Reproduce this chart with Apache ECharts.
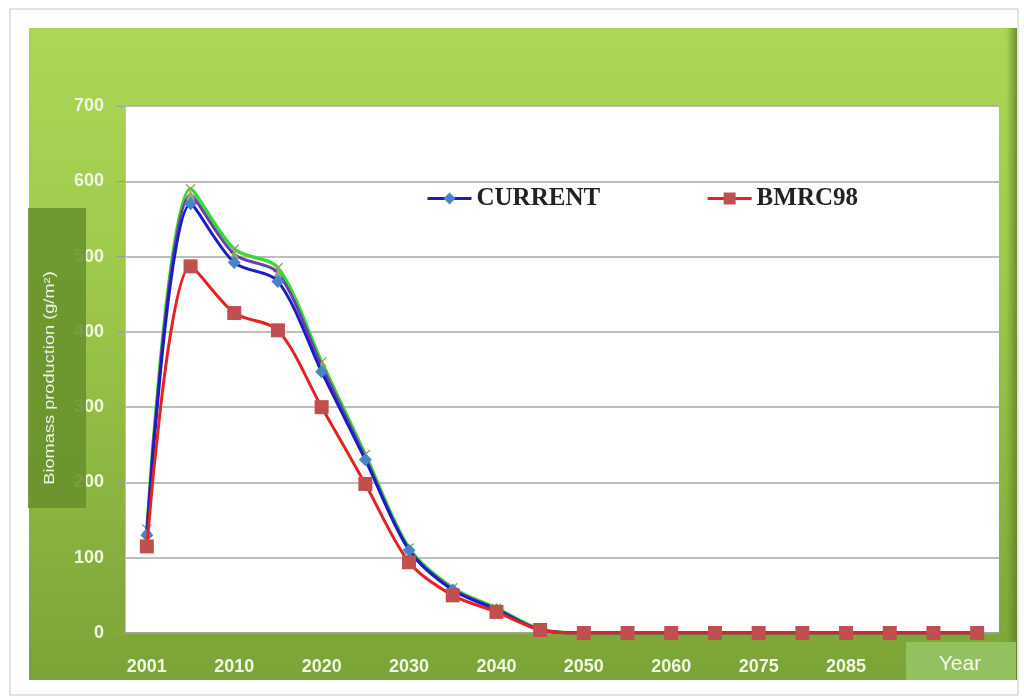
<!DOCTYPE html>
<html>
<head>
<meta charset="utf-8">
<script src="https://cdn.jsdelivr.net/npm/echarts@6/dist/echarts.min.js"></script>
<style>
html,body{margin:0;padding:0;background:#fff;}
#chart{width:1024px;height:697px;}
</style>
</head>
<body>
<div id="chart"></div>
<script>
var years = ['2001','2005','2010','2015','2020','2025','2030','2035','2040','2045','2050','2055','2060','2070','2075','2080','2085','2090','2095','2100'];
var yTicks = [0,100,200,300,400,500,600,700];
var current = [130,570,492,467,347,230,110,57,31,4,0,0,0,0,0,0,0,0,0,0];
var bmrc98  = [115,487,425,402,300,198,94,50,28,4,0,0,0,0,0,0,0,0,0,0];
var seriesGreen  = [138,590,510,485,360,237,113,60,33,5,0,0,0,0,0,0,0,0,0,0];
var seriesPurple = [135,582,503,478,355,233,111,58,32,4,0,0,0,0,0,0,0,0,0,0];

var xPath = 'path://M1,0L5,4L9,0L10,1L6,5L10,9L9,10L5,6L1,10L0,9L4,5L0,1Z';
var labelFont = '"Liberation Sans", Arial, sans-serif';

var chart = echarts.init(document.getElementById('chart'), null, {renderer:'canvas'});
chart.setOption({
  backgroundColor:'#ffffff',
  animation:false,
  graphic:[
    {type:'rect', z:-20, shape:{x:10,y:9,width:1008,height:686}, style:{fill:'#ffffff', stroke:'#c8c8c8', lineWidth:1}},
    {type:'rect', z:-19, shape:{x:29,y:28,width:988,height:652},
      style:{fill:{type:'linear',x:0,y:0,x2:0,y2:1,colorStops:[
        {offset:0,color:'#acd656'},{offset:0.35,color:'#a0ca4b'},{offset:1,color:'#7ba337'}]}}},
    {type:'rect', z:-18, shape:{x:1006,y:28,width:11,height:652},
      style:{fill:{type:'linear',x:0,y:0,x2:1,y2:0,colorStops:[
        {offset:0,color:'rgba(100,140,40,0)'},{offset:1,color:'rgba(90,125,35,0.8)'}]}}},
    {type:'rect', z:100, shape:{x:28,y:208,width:58,height:300}, style:{fill:'rgba(104,145,44,0.88)'}},
    {type:'text', z:101, x:50, y:378, rotation:Math.PI/2, scaleX:1.3,
      style:{text:'Biomass production (g/m²)', fill:'#eef2e6', font:'14px "Liberation Sans", Arial, sans-serif', align:'center', verticalAlign:'middle'}},
    {type:'rect', z:100, shape:{x:906,y:642,width:110,height:38}, style:{fill:'rgba(150,196,100,0.9)'}},
    {type:'text', z:101, x:960, y:664,
      style:{text:'Year', fill:'#f6f8f0', font:'21px "Liberation Sans", Arial, sans-serif', align:'center', verticalAlign:'middle'}}
  ],
  grid:{left:125, right:25, top:106, bottom:64, show:true, backgroundColor:'#ffffff', borderWidth:0},
  legend:{
    data:['CURRENT','BMRC98'],
    left:421, top:181, itemGap:106, itemWidth:44, itemHeight:15,
    lineStyle:{width:3},
    textStyle:{fontFamily:'"Liberation Serif", "Times New Roman", serif', fontWeight:'bold', fontSize:25, color:'#222'}
  },
  xAxis:{
    type:'category', data:years, boundaryGap:true,
    axisLine:{show:true, lineStyle:{color:'#9a9a9a', width:1.5}},
    axisTick:{show:false},
    axisLabel:{interval:function(i){return i%2===0 && i!==18;}, margin:25, color:'#f0f6e2', fontSize:18, fontWeight:'bold', fontFamily:labelFont}
  },
  yAxis:{
    type:'value', min:yTicks[0], max:yTicks[yTicks.length-1], interval:100,
    axisLine:{show:true, lineStyle:{color:'#b8c8a0', width:1}},
    axisTick:{show:true, length:8, lineStyle:{color:'#9a9a9a'}},
    axisLabel:{margin:21, color:'#f0f6e2', fontSize:18, fontWeight:'bold', fontFamily:labelFont},
    splitLine:{show:true, lineStyle:{color:'#a8a8a8', width:1.5}}
  },
  series:[
    {name:'Scenario G', type:'line', smooth:0.3, data:seriesGreen, z:2,
      lineStyle:{color:'#35dc35', width:3.5}, itemStyle:{color:'#8fa860'},
      symbol:xPath, symbolSize:10},
    {name:'Scenario P', type:'line', smooth:0.3, data:seriesPurple, z:3,
      lineStyle:{color:'#6a3fa8', width:3}, itemStyle:{color:'#93a86a'},
      symbol:'triangle', symbolSize:9},
    {name:'CURRENT', type:'line', smooth:0.3, data:current, z:4,
      lineStyle:{color:'#1c1cc4', width:3}, itemStyle:{color:'#4a84c6'},
      symbol:'diamond', symbolSize:13},
    {name:'BMRC98', type:'line', smooth:0.3, data:bmrc98, z:5,
      lineStyle:{color:'#e52222', width:3}, itemStyle:{color:'#c0504d'},
      symbol:'rect', symbolSize:14}
  ]
});
</script>
</body>
</html>
